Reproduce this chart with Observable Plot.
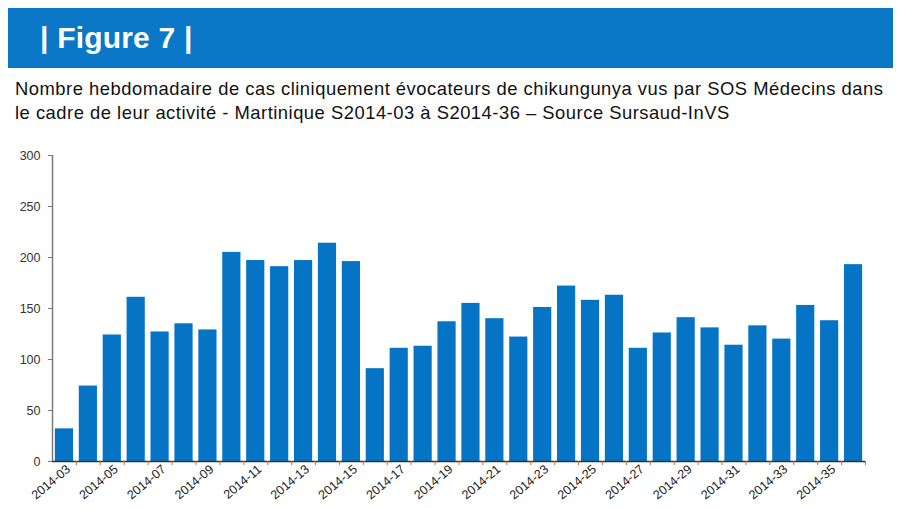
<!DOCTYPE html>
<html>
<head>
<meta charset="utf-8">
<script src="https://cdn.jsdelivr.net/npm/d3@7"></script>
<script src="https://cdn.jsdelivr.net/npm/@observablehq/plot@0.6"></script>
<style>
  html, body { margin: 0; padding: 0; background: #fff; width: 900px; height: 508px; overflow: hidden; font-family: "Liberation Sans", Arial, sans-serif; }
  #header { position: absolute; left: 8px; top: 8px; width: 885px; height: 60px; background: #0A78C6; }
  #header span { position: absolute; left: 32px; top: 13px; color: #fff; font-weight: bold; font-size: 30px; letter-spacing: 0.2px; }
  #subtitle { position: absolute; left: 15px; top: 77px; width: 885px; font-size: 18.4px; line-height: 24px; letter-spacing: 0.5px; color: #111; white-space: nowrap; }
  #chart { position: absolute; left: 0; top: 140px; }
</style>
</head>
<body>
<div id="header"><span>| Figure 7 |</span></div>
<div id="subtitle">Nombre hebdomadaire de cas cliniquement évocateurs de chikungunya vus par SOS Médecins dans<br>le cadre de leur activité - Martinique S2014-03 à S2014-36 – Source Sursaud-InVS</div>
<div id="chart"></div>
<script>
const weeks = ["2014-03","2014-04","2014-05","2014-06","2014-07","2014-08","2014-09","2014-10","2014-11","2014-12",
  "2014-13","2014-14","2014-15","2014-16","2014-17","2014-18","2014-19","2014-20","2014-21","2014-22",
  "2014-23","2014-24","2014-25","2014-26","2014-27","2014-28","2014-29","2014-30","2014-31","2014-32",
  "2014-33","2014-34","2014-35","2014-36"];
const cases = [32, 74, 124, 161, 127, 135, 129, 205, 197, 191,
  197, 214, 196, 91, 111, 113, 137, 155, 140, 122,
  151, 172, 158, 163, 111, 126, 141, 131, 114, 133,
  120, 153, 138, 193];
const yTicks = [0, 50, 100, 150, 200, 250, 300];
const xLabels = weeks.filter((w, i) => i % 2 === 0);

const data = weeks.map((w, i) => ({week: w, value: cases[i]}));
const width = 900, marginLeft = 52, marginRight = 35;
const step = (width - marginLeft - marginRight) / weeks.length;

const chart = Plot.plot({
  width, height: 368,
  marginTop: 15, marginBottom: 47, marginLeft, marginRight,
  style: {fontFamily: "Liberation Sans, Arial, sans-serif", background: "transparent"},
  x: {domain: weeks, padding: 0.24, paddingOuter: 0.12, label: null},
  y: {domain: [0, 300], label: null},
  marks: [
    Plot.barY(data, {x: "week", y: "value", fill: "#0574C4"}),
    Plot.ruleX([weeks[0]], {dx: -step / 2, stroke: "#7a7a7a", strokeWidth: 1.5}),
    Plot.axisY({ticks: yTicks, tickSize: 4, tickPadding: 8, fontSize: 12.5, color: "#333", stroke: "#7a7a7a"}),
    Plot.ruleY([0], {stroke: "#333", strokeWidth: 1.5}),
    Plot.axisX({ticks: weeks, tickSize: 4, text: null, dx: step / 2, stroke: "#c8742e"}),
    Plot.axisX({ticks: xLabels, tickSize: 0, tickPadding: 6, tickRotate: -40, fontSize: 12.5, color: "#222", textAnchor: "end", dx: 4})
  ]
});
document.getElementById("chart").appendChild(chart);
</script>
</body>
</html>
